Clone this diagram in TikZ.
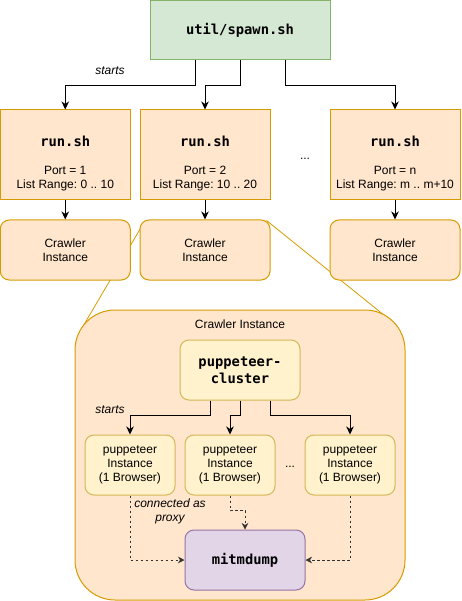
\documentclass[tikz,border=0pt]{standalone}
\usepackage{fontspec}
\setmainfont{Liberation Sans}
\setmonofont{DejaVu Sans Mono}
\usetikzlibrary{arrows.meta,backgrounds}
\frenchspacing
\definecolor{spawnfill}{HTML}{D5E8D4}
\definecolor{spawnline}{HTML}{82B366}
\definecolor{runfill}{HTML}{FFE6CC}
\definecolor{runline}{HTML}{D79B00}
\definecolor{pupfill}{HTML}{FFF2CC}
\definecolor{pupline}{HTML}{D6B656}
\definecolor{mitmfill}{HTML}{E1D5E7}
\definecolor{mitmline}{HTML}{9673A6}
\tikzset{
  txt/.style={font=\fontsize{12}{14}\selectfont, align=center, inner sep=0pt},
  note/.style={txt, font=\fontsize{12}{14}\selectfont\itshape},
  code/.style={font=\fontsize{13.8}{17}\selectfont\ttfamily\bfseries, align=center, inner sep=0pt},
  box/.style={draw, line width=1pt, inner sep=0pt},
  spawnbox/.style={box, code, draw=spawnline, fill=spawnfill, minimum width=180pt, minimum height=59.5pt},
  runbox/.style={box, draw=runline, fill=runfill, minimum width=130pt, minimum height=90pt},
  crawlbox/.style={box, txt, draw=runline, fill=runfill, rounded corners=9pt, minimum width=130pt, minimum height=60pt},
  bigbox/.style={box, draw=runline, fill=runfill, rounded corners=40pt, minimum width=330pt, minimum height=290pt},
  pupbox/.style={box, draw=pupline, fill=pupfill, rounded corners=9pt, minimum height=60pt},
  mitmbox/.style={box, code, draw=mitmline, fill=mitmfill, rounded corners=9pt, minimum width=120pt, minimum height=60pt},
  arr/.style={-{Stealth[length=8pt,width=7.5pt,inset=2.5pt]}, line width=1pt},
  proxyarr/.style={-{Stealth[length=6.5pt,width=6.5pt,inset=2pt]}, line width=0.75pt, black!80, dash pattern=on 2.5pt off 2.5pt},
  zoomline/.style={draw=runline, line width=0.8pt}
}
\begin{document}
\begin{tikzpicture}[x=1pt,y=-1pt]
\useasboundingbox (0,0) rectangle (461,601);
% spawn script and the run scripts
\node[spawnbox] (spawn) at (240,30.25) {util/spawn.sh};
\node[runbox] (run1) at (65.25,155) {};
\node[runbox] (run2) at (205,155) {};
\node[runbox] (run3) at (395,155) {};
\node[code] (run1name) at (65.25,141) {run.sh};
\node[code] (run2name) at (205,141) {run.sh};
\node[code] (run3name) at (395,141) {run.sh};
\node[txt] (run1info) at (65.25,179) {Port = 1\\List Range: 0 .. 10};
\node[txt] (run2info) at (205,179) {Port = 2\\List Range: 10 .. 20};
\node[txt] (run3info) at (395,179) {Port = n\\List Range: m .. m+10};
\node[txt] (rundots) at (305,158.5) {...};
\node[note] (startsA) at (110,71) {starts};
\node[crawlbox] (crawler1) at (65.25,250) {Crawler\\Instance};
\node[crawlbox] (crawler2) at (205,250) {Crawler\\Instance};
\node[crawlbox] (crawler3) at (395,250) {Crawler\\Instance};
\draw[arr] ([xshift=-45pt]spawn.south) -- ++(0,25) -| (run1.north);
\draw[arr] (spawn.south) -- ++(0,25) -| (run2.north);
\draw[arr] ([xshift=45pt]spawn.south) -- ++(0,25) -| (run3.north);
\draw[arr] (run1.south) -- (crawler1.north);
\draw[arr] (run2.south) -- (crawler2.north);
\draw[arr] (run3.south) -- (crawler3.north);
% inside one crawler instance
\node[bigbox] (crawlerbig) at (240,455) {};
\node[txt] (bigtitle) at (240,324) {Crawler Instance};
\node[pupbox, code, minimum width=120pt] (cluster) at (240,370) {puppeteer-\\cluster};
\node[pupbox, txt, minimum width=90pt] (inst1) at (130,465) {puppeteer\\Instance\\(1 Browser)};
\node[pupbox, txt, minimum width=90pt] (inst2) at (230,465) {puppeteer\\Instance\\(1 Browser)};
\node[pupbox, txt, minimum width=90pt] (inst3) at (350,465) {puppeteer\\Instance\\(1 Browser)};
\node[txt] (instdots) at (290,467) {...};
\node[note] (startsB) at (110,410) {starts};
\node[mitmbox] (mitm) at (245,560) {mitmdump};
\node[note] (proxynote) at (170,511) {connected as\\proxy};
\draw[arr] ([xshift=-30pt]cluster.south) -- ++(0,15) -| (inst1.north);
\draw[arr] (cluster.south) -- ++(0,15) -| (inst2.north);
\draw[arr] ([xshift=30pt]cluster.south) -- ++(0,15) -| (inst3.north);
\draw[proxyarr] (inst1.south) |- (mitm.west);
\draw[proxyarr] (inst2.south) -- ++(0,15) -| (mitm.north);
\draw[proxyarr] (inst3.south) |- (mitm.east);
% zoom lines behind the boxes
\begin{pgfonlayer}{background}
\draw[zoomline] ([xshift=1.5pt,yshift=-8pt]crawler2.north west) -- ([xshift=9pt,yshift=-16pt]crawlerbig.north west);
\draw[zoomline] ([xshift=-4pt,yshift=-1pt]crawler2.north east) -- ([xshift=-21pt,yshift=-6pt]crawlerbig.north east);
\end{pgfonlayer}
\end{tikzpicture}
\end{document}
